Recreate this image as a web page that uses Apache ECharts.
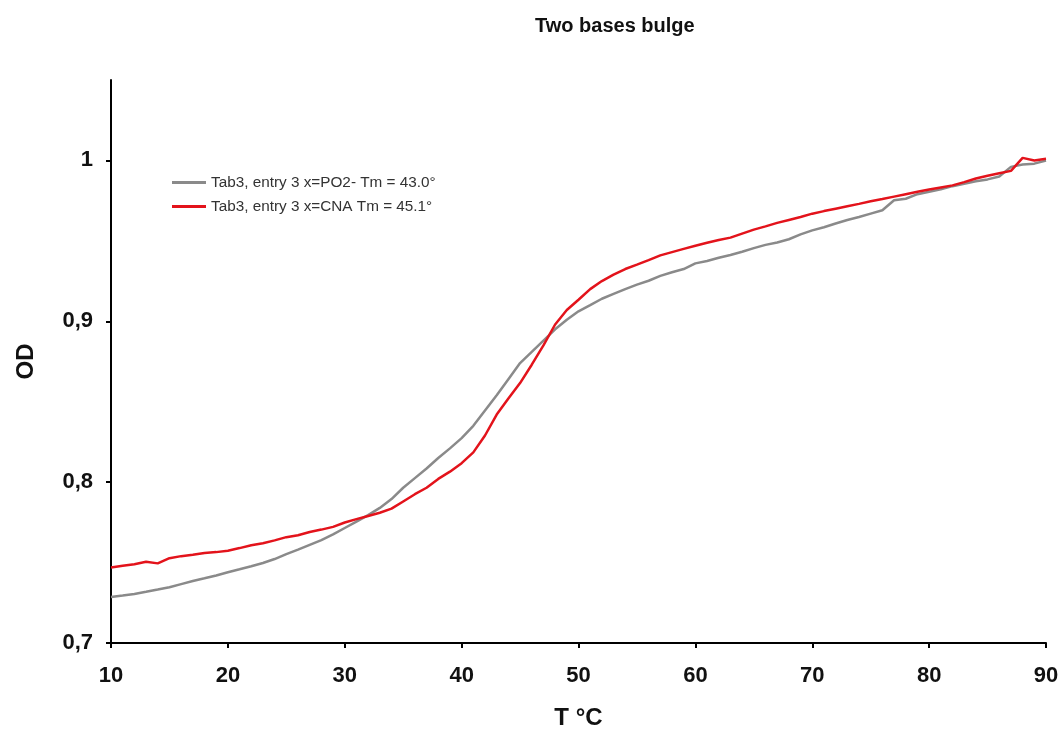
<!DOCTYPE html>
<html>
<head>
<meta charset="utf-8">
<title>Two bases bulge</title>
<script src="https://cdn.jsdelivr.net/npm/echarts@6/dist/echarts.min.js"></script>
<style>
  html, body { margin: 0; padding: 0; background: #fff; }
  #chart { width: 1063px; height: 729px; }
</style>
</head>
<body>
<div id="chart"></div>
<script>
// Melting curves: absorbance (OD) against temperature, 1 °C steps
const temperatures = [
  10, 11, 12, 13, 14, 15, 16, 17, 18, 19,
  20, 21, 22, 23, 24, 25, 26, 27, 28, 29,
  30, 31, 32, 33, 34, 35, 36, 37, 38, 39,
  40, 41, 42, 43, 44, 45, 46, 47, 48, 49,
  50, 51, 52, 53, 54, 55, 56, 57, 58, 59,
  60, 61, 62, 63, 64, 65, 66, 67, 68, 69,
  70, 71, 72, 73, 74, 75, 76, 77, 78, 79,
  80, 81, 82, 83, 84, 85, 86, 87, 88, 89, 90
];

const odPO2 = [
  0.7286, 0.7295, 0.7305, 0.7318, 0.7332, 0.7347, 0.7366, 0.7385, 0.7402, 0.7420,
  0.7440, 0.7458, 0.7477, 0.7497, 0.7522, 0.7552, 0.7580, 0.7610, 0.7640, 0.7675,
  0.7715, 0.7755, 0.7795, 0.7840, 0.7895, 0.7965, 0.8025, 0.8085, 0.8150, 0.8210,
  0.8274, 0.8350, 0.8445, 0.8540, 0.8640, 0.8740, 0.8810, 0.8880, 0.8950, 0.9010,
  0.9062, 0.9100, 0.9140, 0.9170, 0.9200, 0.9228, 0.9252, 0.9282, 0.9305, 0.9325,
  0.9360, 0.9375, 0.9395, 0.9412, 0.9432, 0.9455, 0.9475, 0.9490, 0.9510, 0.9540,
  0.9565, 0.9585, 0.9608, 0.9630, 0.9648, 0.9669, 0.9690, 0.9752, 0.9762, 0.9790,
  0.9805, 0.9820, 0.9840, 0.9855, 0.9870, 0.9882, 0.9900, 0.9960, 0.9975, 0.9980, 1.0000
];

const odCNA = [
  0.7469, 0.7480, 0.7490, 0.7505, 0.7495, 0.7527, 0.7540, 0.7548, 0.7560, 0.7565,
  0.7574, 0.7590, 0.7608, 0.7620, 0.7638, 0.7658, 0.7670, 0.7690, 0.7705, 0.7722,
  0.7749, 0.7770, 0.7790, 0.7810, 0.7835, 0.7880, 0.7925, 0.7965, 0.8020, 0.8065,
  0.8118, 0.8185, 0.8290, 0.8420, 0.8520, 0.8616, 0.8730, 0.8850, 0.8980, 0.9070,
  0.9134, 0.9200, 0.9250, 0.9290, 0.9325, 0.9352, 0.9380, 0.9410, 0.9430, 0.9450,
  0.9470, 0.9488, 0.9505, 0.9520, 0.9545, 0.9570, 0.9590, 0.9612, 0.9630, 0.9648,
  0.9669, 0.9685, 0.9700, 0.9715, 0.9730, 0.9746, 0.9760, 0.9775, 0.9790, 0.9805,
  0.9819, 0.9832, 0.9845, 0.9865, 0.9888, 0.9905, 0.9920, 0.9935, 1.0016, 1.0000, 1.0010
];

const seriesNames = [
  'Tab3, entry 3 x=PO2- Tm = 43.0°',
  'Tab3, entry 3 x=CNA Tm = 45.1°'
];

const yTicks = [0.7, 0.8, 0.9, 1.0];

const FONT = '"Liberation Sans", Arial, Helvetica, sans-serif';

const pairs = (xs, ys) => xs.map((x, i) => [x, ys[i]]);

const chart = echarts.init(document.getElementById('chart'), null, { renderer: 'canvas' });

chart.setOption({
  backgroundColor: '#ffffff',
  animation: false,
  title: {
    text: 'Two bases bulge',
    left: 535,
    top: 16,
    padding: 0,
    textStyle: { fontFamily: FONT, fontSize: 20, fontWeight: 'bold', color: '#111' }
  },
  legend: {
    orient: 'vertical',
    left: 172,
    top: 175,
    icon: 'rect',
    itemWidth: 34,
    itemHeight: 3,
    itemGap: 9,
    padding: 0,
    textStyle: { fontFamily: FONT, fontSize: 15.3, color: '#333' },
    data: seriesNames
  },
  grid: {
    left: 111, right: 17, top: 80, bottom: 86,
    containLabel: false,
    outerBoundsMode: 'none'
  },
  xAxis: {
    type: 'value',
    min: 10,
    max: 90,
    interval: 10,
    name: 'T °C',
    nameLocation: 'middle',
    nameGap: 63,
    nameTextStyle: { fontFamily: FONT, fontSize: 24, fontWeight: 'bold', color: '#111' },
    axisLine: { show: true, lineStyle: { color: '#000', width: 2 } },
    axisTick: { show: true, length: 5, lineStyle: { color: '#000', width: 2 } },
    axisLabel: { margin: 22, fontFamily: FONT, fontSize: 22, fontWeight: 'bold', color: '#111' },
    splitLine: { show: false }
  },
  yAxis: {
    type: 'value',
    min: 0.7,
    max: 1.05,
    name: 'OD',
    nameLocation: 'middle',
    nameGap: 73,
    nameTextStyle: { fontFamily: FONT, fontSize: 24, fontWeight: 'bold', color: '#111' },
    axisLine: { show: true, lineStyle: { color: '#000', width: 2 } },
    axisTick: { show: true, length: 5, customValues: yTicks, lineStyle: { color: '#000', width: 2 } },
    axisLabel: {
      margin: 18,
      customValues: yTicks,
      fontFamily: FONT, fontSize: 22, fontWeight: 'bold', color: '#111',
      formatter: v => String(Math.round(v * 10) / 10).replace('.', ',')
    },
    splitLine: { show: false }
  },
  series: [
    {
      name: seriesNames[0],
      type: 'line',
      data: pairs(temperatures, odPO2),
      symbol: 'none',
      color: '#8a8a8a',
      lineStyle: { color: '#8a8a8a', width: 2.5 }
    },
    {
      name: seriesNames[1],
      type: 'line',
      data: pairs(temperatures, odCNA),
      symbol: 'none',
      color: '#e3131b',
      lineStyle: { color: '#e3131b', width: 2.5 }
    }
  ]
});
</script>
</body>
</html>
